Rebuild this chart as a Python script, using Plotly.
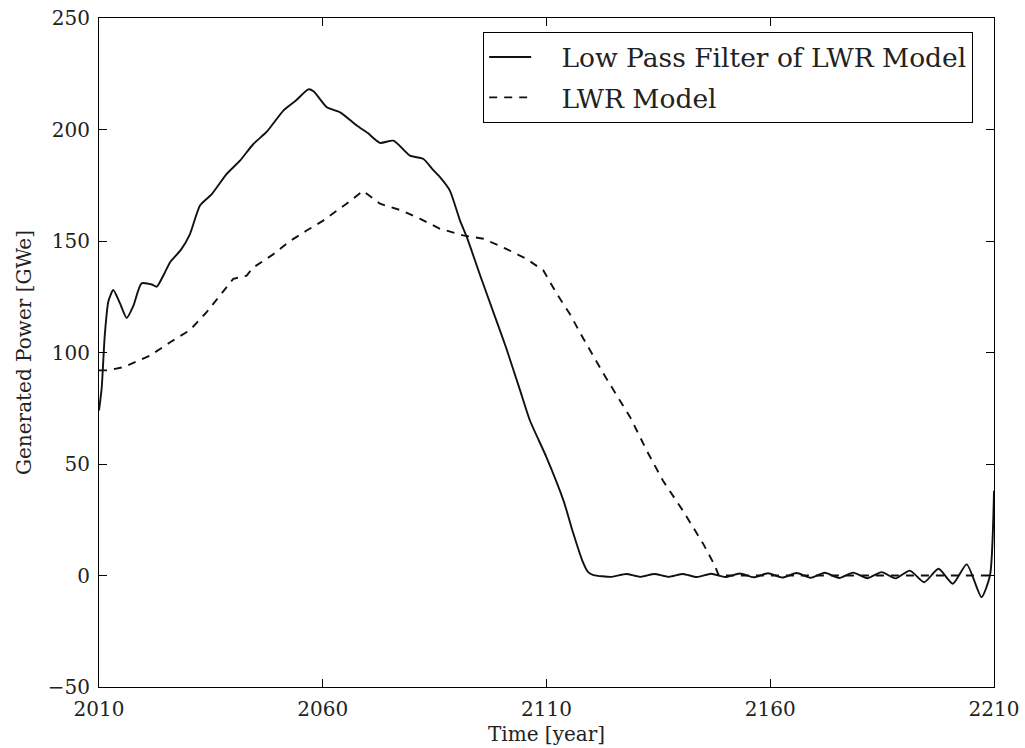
import plotly.graph_objects as go

# Low-pass filtered LWR generated power (year, GWe)
filt_years = [2010, 2010.6, 2011.3, 2012.1, 2013.2, 2014.7, 2016.2, 2017.7, 2019.5, 2021.8,
              2022.9, 2024.5, 2025.9, 2028.3, 2030.3, 2032.6, 2035.2, 2038.5, 2041.5, 2044.5,
              2047.5, 2051.2, 2054.0, 2056.8, 2058.0, 2060.9, 2063.9, 2067.6, 2070.0, 2072.8,
              2075.8, 2079.5, 2082.5, 2084.6, 2086.2, 2088.4, 2090.7, 2092.2, 2095.1, 2098.5,
              2101.0, 2104.1, 2106.3, 2110.0, 2113.8, 2116.0, 2118.0, 2119.3, 2120.5, 2124.6,
              2127.8, 2131.0, 2134.1, 2137.3, 2140.5, 2143.6, 2146.8, 2150.0, 2153.2, 2156.3,
              2159.5, 2162.7, 2165.9, 2169.0, 2172.2, 2175.4, 2178.5, 2181.7, 2184.9, 2188.0,
              2191.2, 2194.4, 2197.6, 2200.8, 2203.9, 2207.2, 2209.1, 2210]
filt_power = [74, 84, 108, 123, 128, 122, 115.5, 121, 131, 130.5,
              129.5, 135, 140.5, 146, 153, 166, 171, 180, 186, 193.5,
              199, 208.5, 213, 218, 217, 210, 207.7, 201.8, 198.5, 194,
              195, 188.3, 186.8, 182, 178.6, 172.6, 159, 151.7, 135, 116,
              102, 83, 69.5, 53, 33.6, 18.8, 6.7, 1.5, 0.2, -0.6,
              0.7, -0.6, 0.7, -0.6, 0.7, -0.7, 0.8, -0.7, 0.9, -0.8,
              1.0, -0.9, 1.1, -1.0, 1.2, -1.1, 1.3, -1.2, 1.5, -1.3,
              2.2, -3.0, 3.0, -3.7, 5.0, -9.7, 0, 38]

# LWR model generated power (year, GWe)
lwr_years = [2010, 2012, 2015.4, 2021.4, 2025.9, 2030.3, 2034.0, 2037.4, 2040.0, 2043.0,
             2044.4, 2048.9, 2052.7, 2056.4, 2060.0, 2065.3, 2069.0, 2072.8, 2077.6, 2081.7,
             2086.2, 2091.4, 2095.9, 2101.0, 2105.5, 2109.3, 2112.3, 2115.3, 2117.6, 2122.7,
             2128.7, 2132.4, 2136.0, 2140.5, 2145.0, 2147.6, 2148.5, 2210]
lwr_power = [92, 92, 93.4, 98.6, 104.6, 110, 118, 126.3, 133, 134.5,
             138, 144, 150, 154.7, 159, 166.7, 172.5, 166.7, 163.7, 160,
             155.5, 152.5, 151, 146.5, 142, 136.8, 126.3, 117, 108.5, 90.6,
             71, 56, 42.6, 29, 14.3, 4.5, 0, 0]

x_ticks = [2010, 2060, 2110, 2160, 2210]

font_family = "DejaVu Serif"
text_color = "#222222"
pad = "\u00a0\u00a0\u00a0"  # gap between legend line sample and label

fig = go.Figure()
fig.add_trace(go.Scatter(
    x=filt_years, y=filt_power, mode="lines",
    name=pad + "Low Pass Filter of LWR Model", legendgroup="a",
    line=dict(color="#111111", width=1.9, shape="spline", smoothing=0.6),
))
fig.add_trace(go.Scatter(
    x=lwr_years, y=lwr_power, mode="lines",
    name=pad + "LWR Model", legendgroup="b",
    line=dict(color="#111111", width=1.9, dash="8px,7px"),
))

axis_common = dict(
    showline=True, linecolor="black", linewidth=1.2, mirror="ticks",
    ticks="inside", ticklen=8, tickwidth=1, tickcolor="black",
    showgrid=False, zeroline=False, automargin=False,
    tickfont=dict(family=font_family, size=20, color=text_color),
)

fig.update_layout(
    width=1025, height=748,
    margin=dict(l=99, r=31, t=18, b=61),
    paper_bgcolor="white", plot_bgcolor="white",
    font=dict(family=font_family, color=text_color),
    showlegend=True,
    legend=dict(
        x=0.9765, y=0.979, xanchor="right", yanchor="top",
        bgcolor="white", bordercolor="black", borderwidth=1.2,
        font=dict(family=font_family, size=26.5, color=text_color),
        traceorder="grouped", tracegroupgap=3, itemwidth=42,
    ),
    xaxis=dict(
        range=[2010, 2210], tickvals=x_ticks, ticktext=[str(v) for v in x_ticks],
        ticklabelstandoff=4,
        title=dict(text="Time [year]", font=dict(family=font_family, size=20, color=text_color), standoff=6),
        **axis_common,
    ),
    yaxis=dict(
        range=[-50, 250], tick0=0, dtick=50,
        ticklabelstandoff=4,
        title=dict(text="Generated Power [GWe]", font=dict(family=font_family, size=20, color=text_color), standoff=10),
        **axis_common,
    ),
)

fig.write_html("out.html")
